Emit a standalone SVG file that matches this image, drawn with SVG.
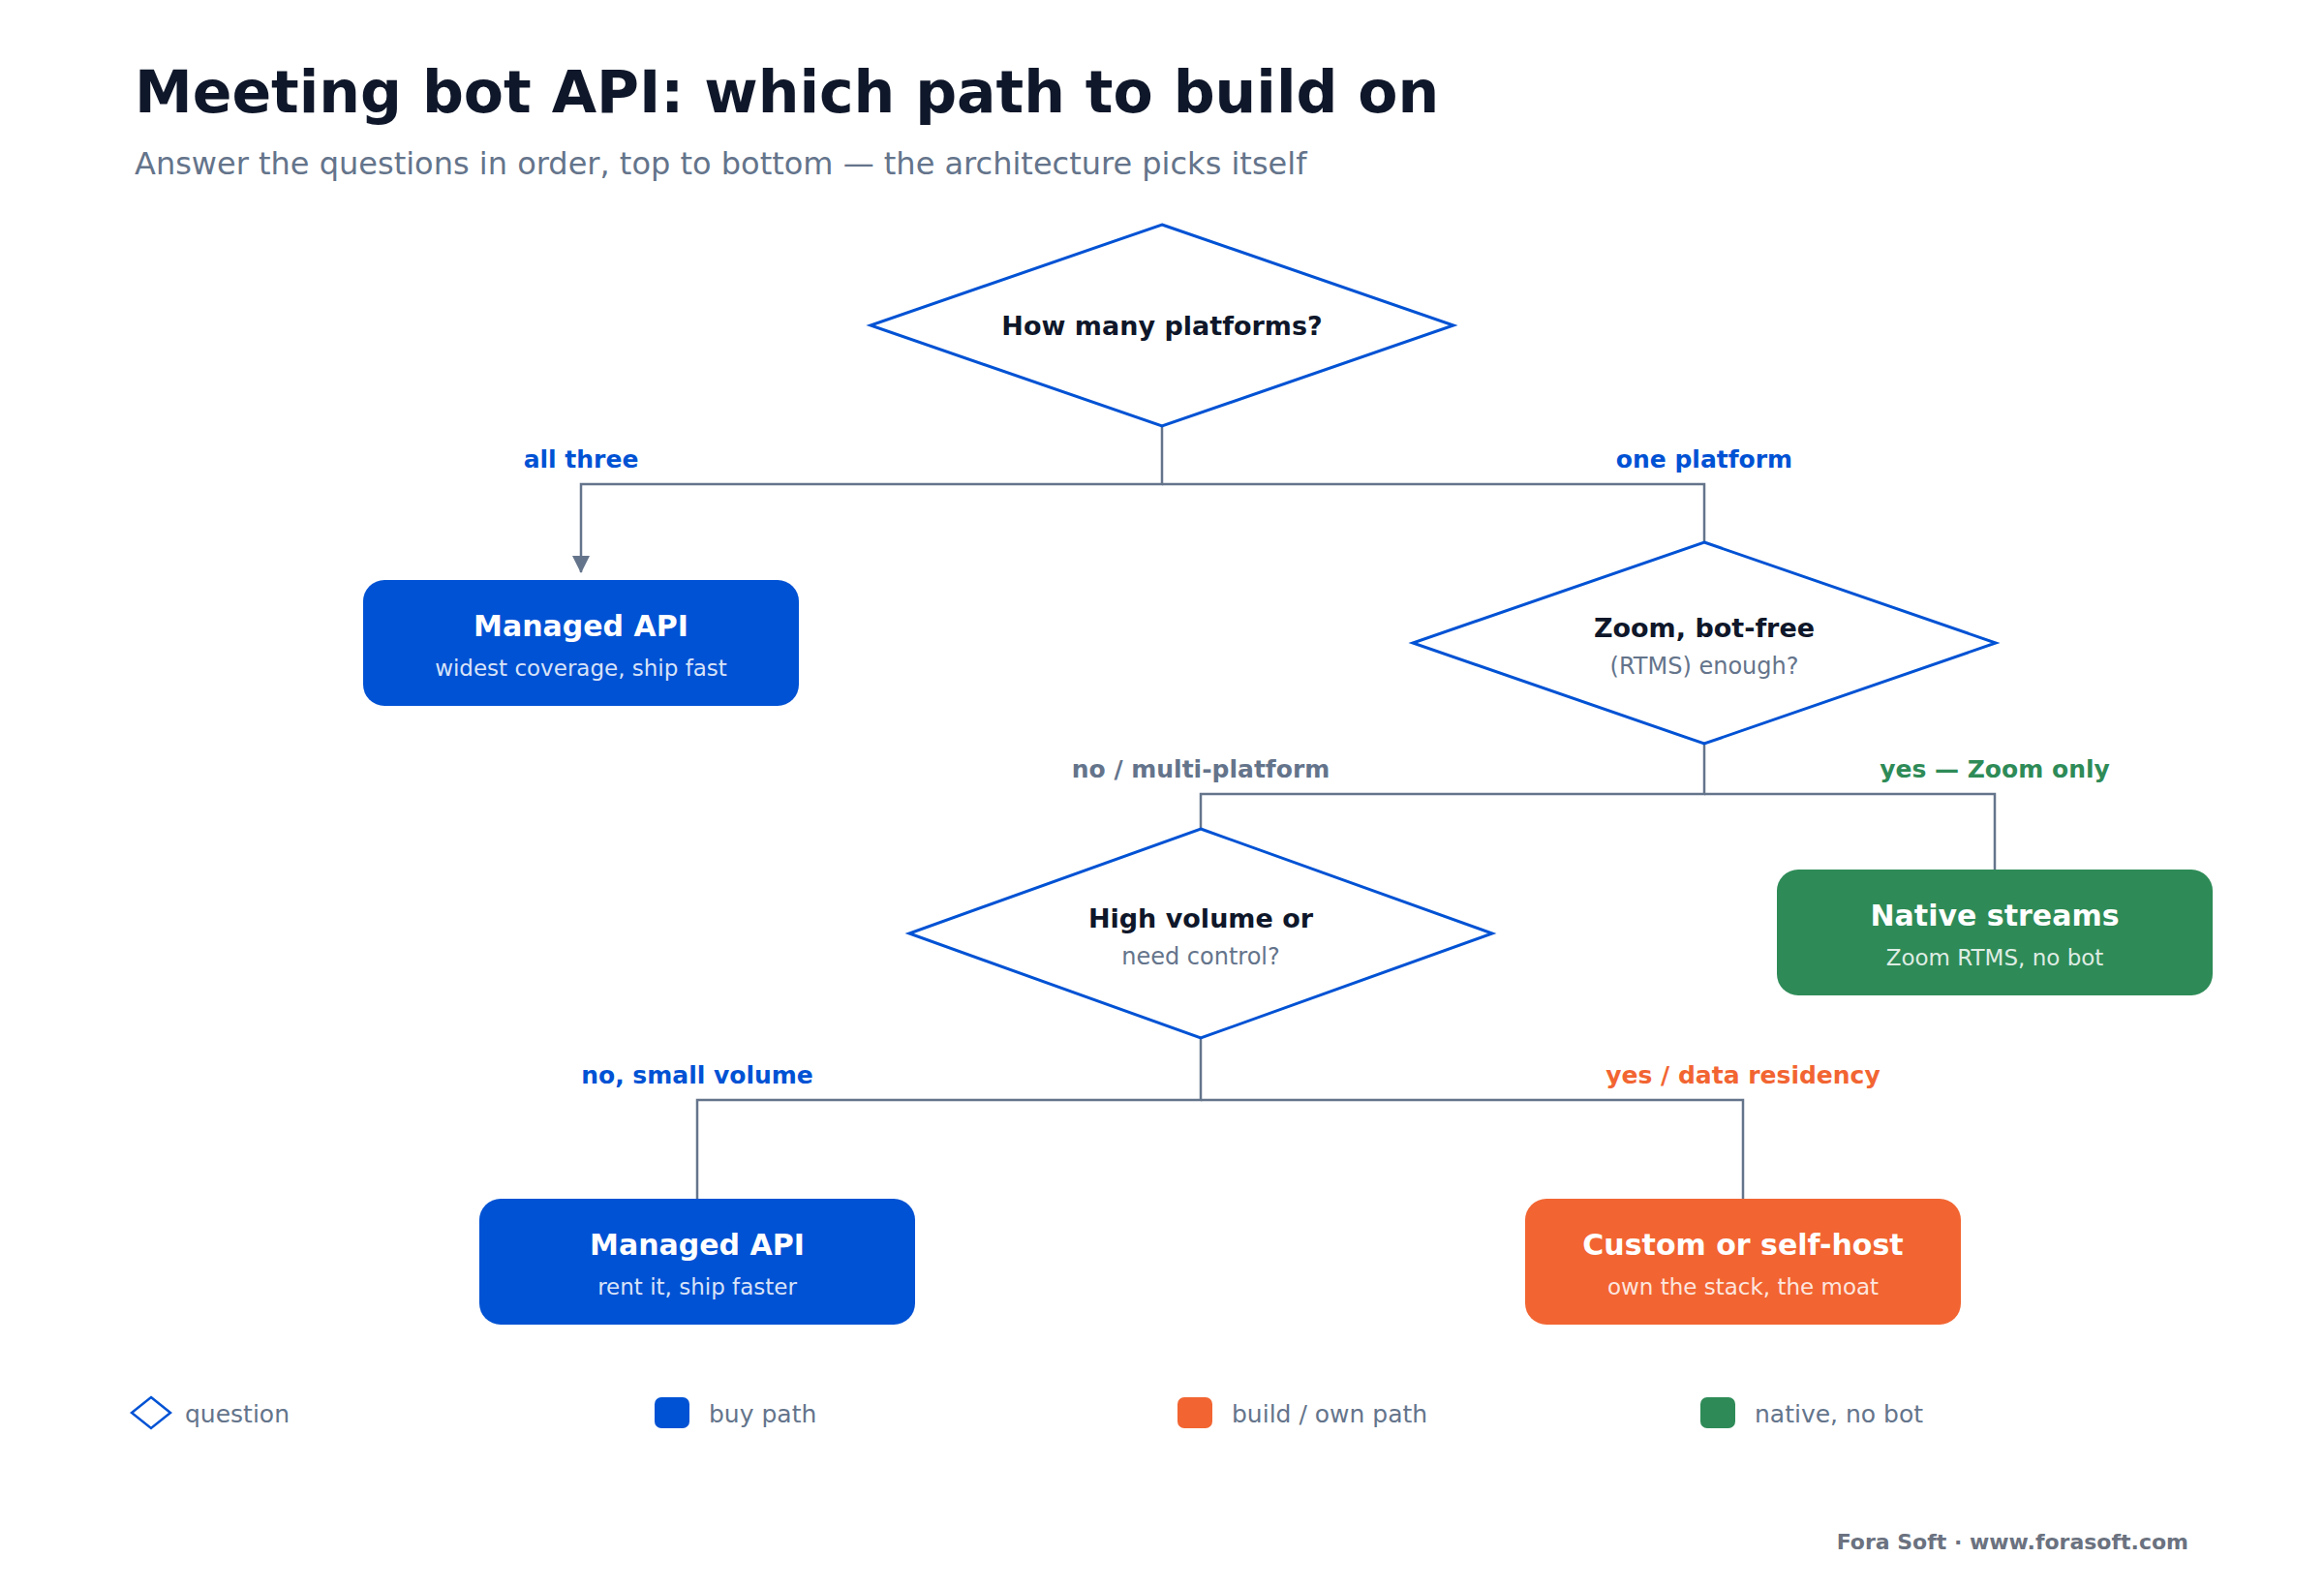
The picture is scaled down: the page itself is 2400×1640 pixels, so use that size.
<svg xmlns="http://www.w3.org/2000/svg" width="2400" height="1640" viewBox="0 0 2400 1640">
<defs>
<style>
text{font-family:"DejaVu Sans","Verdana",sans-serif}
.title{font-size:60px;font-weight:bold;fill:#0f172a}
.sub{font-size:32px;fill:#64748b}
.q{fill:#ffffff;stroke:#0052d4;stroke-width:3}
.qt{font-size:27px;font-weight:bold;fill:#0f172a;text-anchor:middle}
.qs{font-size:24px;fill:#64748b;text-anchor:middle}
.bt{font-size:30px;font-weight:bold;fill:#ffffff;text-anchor:middle}
.bs{font-size:23px;fill:#ffffff;fill-opacity:0.86;text-anchor:middle}
.ln{fill:none;stroke:#64748b;stroke-width:2.5}
.lb{font-size:25px;font-weight:bold;text-anchor:middle}
.lg{font-size:25px;fill:#64748b}
.blue{fill:#0052d4}
.orange{fill:#f26532}
.green{fill:#2e8b57}
.gray{fill:#64748b}
</style>
<marker id="arr" viewBox="0 0 18 18" refX="17" refY="9" markerWidth="18" markerHeight="18" markerUnits="userSpaceOnUse" orient="auto">
<path d="M0,0 L18,9 L0,18 Z" fill="#64748b"/>
</marker>
</defs>
<rect width="2400" height="1640" fill="#ffffff"/>
<text class="title" x="139" y="116">Meeting bot API: which path to build on</text>
<text class="sub" x="139" y="180">Answer the questions in order, top to bottom — the architecture picks itself</text>

<g id="connectors">
<path class="ln" d="M1200,440 V500 H600 V591" marker-end="url(#arr)"/>
<path class="ln" d="M1200,500 H1760 V560"/>
<path class="ln" d="M1760,768 V820 H1240 V856"/>
<path class="ln" d="M1760,820 H2060 V898"/>
<path class="ln" d="M1240,1072 V1136 H720 V1238"/>
<path class="ln" d="M1240,1136 H1800 V1238"/>
<text class="lb blue" x="600" y="483">all three</text>
<text class="lb blue" x="1760" y="483">one platform</text>
<text class="lb gray" x="1240" y="803">no / multi-platform</text>
<text class="lb green" x="2060" y="803">yes — Zoom only</text>
<text class="lb blue" x="720" y="1119">no, small volume</text>
<text class="lb orange" x="1800" y="1119">yes / data residency</text>
</g>

<g id="q1">
<polygon class="q" points="1200,232 1501,336 1200,440 899,336"/>
<text class="qt" x="1200" y="346">How many platforms?</text>
</g>
<g id="managed1">
<rect x="375" y="599" width="450" height="130" rx="22" class="blue"/>
<text class="bt" x="600" y="657">Managed API</text>
<text class="bs" x="600" y="698">widest coverage, ship fast</text>
</g>
<g id="q2">
<polygon class="q" points="1760,560 2061,664 1760,768 1459,664"/>
<text class="qt" x="1760" y="658">Zoom, bot-free</text>
<text class="qs" x="1760" y="696">(RTMS) enough?</text>
</g>
<g id="native">
<rect x="1835" y="898" width="450" height="130" rx="22" class="green"/>
<text class="bt" x="2060" y="956">Native streams</text>
<text class="bs" x="2060" y="997">Zoom RTMS, no bot</text>
</g>
<g id="q3">
<polygon class="q" points="1240,856 1541,964 1240,1072 939,964"/>
<text class="qt" x="1240" y="958">High volume or</text>
<text class="qs" x="1240" y="996">need control?</text>
</g>
<g id="managed2">
<rect x="495" y="1238" width="450" height="130" rx="22" class="blue"/>
<text class="bt" x="720" y="1296">Managed API</text>
<text class="bs" x="720" y="1337">rent it, ship faster</text>
</g>
<g id="custom">
<rect x="1575" y="1238" width="450" height="130" rx="22" class="orange"/>
<text class="bt" x="1800" y="1296">Custom or self-host</text>
<text class="bs" x="1800" y="1337">own the stack, the moat</text>
</g>

<g id="legend">
<polygon points="156,1443 176,1459 156,1475 136,1459" fill="#ffffff" stroke="#0052d4" stroke-width="2.5"/>
<text class="lg" x="191" y="1469">question</text>
<rect x="676" y="1443" width="36" height="32" rx="7" class="blue"/>
<text class="lg" x="732" y="1469">buy path</text>
<rect x="1216" y="1443" width="36" height="32" rx="7" class="orange"/>
<text class="lg" x="1272" y="1469">build / own path</text>
<rect x="1756" y="1443" width="36" height="32" rx="7" class="green"/>
<text class="lg" x="1812" y="1469">native, no bot</text>
</g>
<text x="2260" y="1600" text-anchor="end" style="font-size:22px;font-weight:bold;fill:#6b7280">Fora Soft · www.forasoft.com</text>
</svg>
